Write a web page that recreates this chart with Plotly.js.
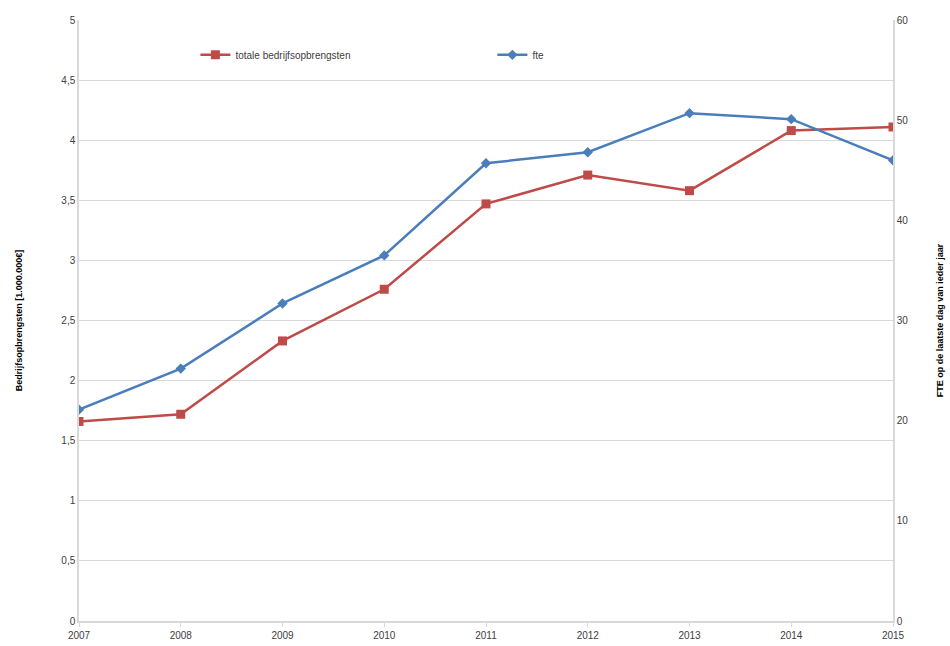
<!DOCTYPE html>
<html>
<head>
<meta charset="utf-8">
<script src="https://cdn.plot.ly/plotly-3.0.1.min.js"></script>
<style>
  html, body { margin: 0; padding: 0; background: #fff; }
  #chart { width: 950px; height: 646px; }
</style>
</head>
<body>
<div id="chart"></div>
<script>
  // data
  const years = [2007, 2008, 2009, 2010, 2011, 2012, 2013, 2014, 2015];
  const opbrengsten = [1.66, 1.72, 2.33, 2.76, 3.47, 3.71, 3.58, 4.08, 4.11];   // x 1.000.000 €
  const fte = [21.1, 25.2, 31.7, 36.5, 45.7, 46.8, 50.7, 50.1, 46.0];

  const RED = "#be4b48", BLUE = "#4a7ebb", GRID = "#d9d9d9";
  const tickFont = { family: "Liberation Sans, Arial, sans-serif", size: 10, color: "#404040" };
  const titleFont = { family: "Liberation Sans, Arial, sans-serif", size: 9, color: "#000" };

  const traces = [
    {
      type: "scatter", mode: "lines+markers", name: "totale bedrijfsopbrengsten",
      x: years, y: opbrengsten, yaxis: "y",
      line: { color: RED, width: 2.5 },
      marker: { symbol: "square", size: 9, color: RED },
    },
    {
      type: "scatter", mode: "lines+markers", name: "fte",
      x: years, y: fte, yaxis: "y2",
      line: { color: BLUE, width: 2.5 },
      marker: { symbol: "diamond", size: 8, color: BLUE },
    },
  ];

  const layout = {
    width: 950, height: 646,
    margin: { l: 79, r: 57, t: 20, b: 25 },
    paper_bgcolor: "#fff", plot_bgcolor: "#fff",
    separators: ", ",
    showlegend: true,
    legend: {
      orientation: "h", x: 0.143, y: 0.942, xanchor: "left", yanchor: "middle",
      entrywidth: 252, entrywidthmode: "pixels", itemwidth: 30,
      font: { family: "Liberation Sans, Arial, sans-serif", size: 10, color: "#404040" },
      bgcolor: "rgba(0,0,0,0)",
    },
    xaxis: {
      range: [2007, 2015], tickvals: years, ticktext: years.map(String),
      showgrid: false, zeroline: false,
      showline: true, linecolor: GRID, linewidth: 1.5,
      ticks: "outside", ticklen: 4, tickcolor: GRID,
      tickfont: tickFont,
    },
    yaxis: {
      range: [0, 5], dtick: 0.5, tickformat: ".1~f",
      showgrid: true, gridcolor: GRID, gridwidth: 1,
      zeroline: false, showline: true, linecolor: GRID, linewidth: 1.5,
      ticks: "", tickfont: tickFont,
      title: { text: "<b>Bedrijfsopbrengsten [1.000.000€]</b>", font: titleFont, standoff: 37 },
    },
    yaxis2: {
      range: [0, 60], dtick: 10, overlaying: "y", side: "right",
      showgrid: false, zeroline: false,
      showline: true, linecolor: GRID, linewidth: 1.5,
      ticks: "", tickfont: tickFont,
      title: { text: "<b>FTE op de laatste dag van ieder jaar</b>", font: titleFont, standoff: 29 },
    },
  };

  Plotly.newPlot("chart", traces, layout, { displayModeBar: false, responsive: false });
</script>
</body>
</html>
